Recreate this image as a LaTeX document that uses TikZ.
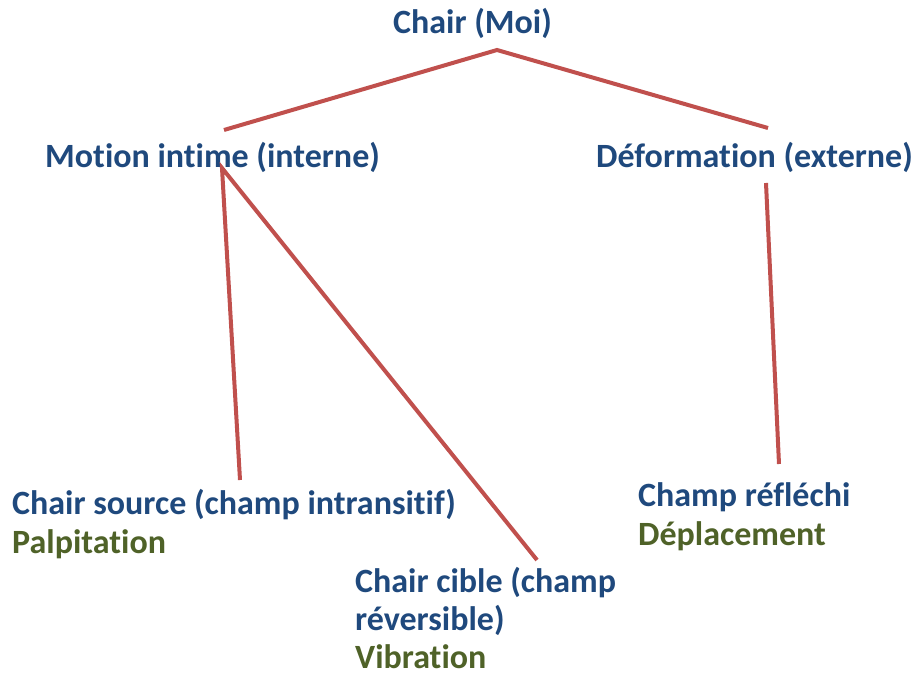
\documentclass[tikz,border=0pt]{standalone}
\usepackage{fontspec}
\setmainfont{Carlito}[Ligatures=NoCommon]
\usetikzlibrary{calc}
\definecolor{titleblue}{HTML}{1F497D}
\definecolor{olive}{HTML}{4F6228}
\definecolor{linkred}{HTML}{C0504D}
\begin{document}
\begin{tikzpicture}[x=1pt,y=-1pt,
  lbl/.style={anchor=base west,inner sep=0pt,text=titleblue,font=\fontsize{34}{40}\selectfont\bfseries},
  sub/.style={lbl,text=olive},
  link/.style={draw=linkred,line width=4pt}]
\useasboundingbox (0,0) rectangle (914,682);

% labels
\node[lbl] (moi) at (393,34) {Chair (Moi)};
\node[lbl] (motion) at (45,168) {Motion intime (interne)};
\node[lbl] (deform) at (596,168) {Déformation (externe)};
\node[lbl] (source) at (12,514) {Chair source (champ intransitif)};
\node[sub] (palp) at (12,553) {Palpitation};
\node[lbl] (reflechi) at (638,506) {Champ réfléchi};
\node[sub] (depl) at (638,545) {Déplacement};
\node[lbl] (cible) at (355,592) {Chair cible (champ};
\node[lbl] (cible2) at (355,630) {réversible)};
\node[sub] (vib) at (355,668) {Vibration};

% connector ends
\coordinate (apex) at (497,50);
\coordinate (motionTop) at (224,130);
\coordinate (deformTop) at (768,128);
\coordinate (motionFoot) at (222,168);
\coordinate (sourceTop) at (240,480);
\coordinate (cibleTop) at (537,560);
\coordinate (deformFoot) at (766,183);
\coordinate (reflechiTop) at (779,464);

% connectors
\draw[link] (motionTop) -- (apex) -- (deformTop);
\draw[link] (sourceTop) -- (motionFoot) -- (cibleTop);
\draw[link] (deformFoot) -- (reflechiTop);
\end{tikzpicture}
\end{document}
